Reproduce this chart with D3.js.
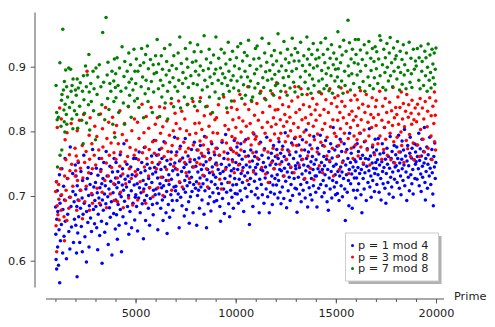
<!DOCTYPE html>
<html>
<head>
<meta charset="utf-8">
<script src="https://cdnjs.cloudflare.com/ajax/libs/d3/7.8.5/d3.min.js"></script>
<style>
body { margin: 0; background: #fff; }
text { font-family: "DejaVu Sans", sans-serif; fill: #222; }
</style>
</head>
<body>
<div id="chart"></div>
<script>
var xMajor = [5000, 10000, 15000, 20000];
var xMinor = d3.range(1000, 20001, 1000);
var yTicks = [0.6, 0.7, 0.8, 0.9];
var seriesNames = ['p = 1 mod 4', 'p = 3 mod 8', 'p = 7 mod 8'];
var seriesColors = ['#0000ff', '#ff0000', '#008000'];

// [prime, value]
var blue = [
[1009,.683],[1019,.641],[1033,.602],[1049,.722],[1061,.587],[1069,.664],[1093,.708],[1109,.621],[1117,.676],[1153,.593],[1181,.648],[1201,.733],[1213,.566],[1229,.689],[1249,.631],[1277,.701],[1297,.656],[1321,.742],[1361,.612],[1373,.679],[1409,.715],[1429,.638],[1453,.694],[1481,.758],[1489,.661],[1549,.603],[1597,.727],[1613,.672],[1669,.645],[1709,.698],[1721,.618],[1741,.776],[1777,.684],[1801,.652],[1861,.735],[1873,.707],[1901,.628],[1933,.691],[1949,.664],[1993,.748],
[2003,.702],[2017,.655],[2029,.731],[2053,.612],[2069,.684],[2081,.575],[2089,.716],[2113,.643],[2129,.694],[2141,.752],[2161,.668],[2213,.628],[2237,.709],[2251,.681],[2273,.738],[2293,.653],[2333,.697],[2341,.614],[2357,.724],[2381,.672],[2417,.763],[2437,.689],[2473,.637],[2521,.711],[2549,.598],[2557,.676],[2593,.727],[2617,.659],[2633,.744],[2657,.701],[2677,.621],[2693,.685],[2729,.718],[2753,.666],[2777,.735],[2801,.645],[2833,.702],[2857,.772],[2897,.679],[2917,.714],[2953,.657],[2969,.693],
[3001,.721],[3019,.684],[3041,.743],[3061,.651],[3089,.705],[3109,.617],[3121,.732],[3137,.672],[3169,.697],[3187,.758],[3209,.639],[3221,.713],[3253,.686],[3271,.741],[3299,.661],[3313,.719],[3329,.596],[3343,.694],[3373,.727],[3391,.678],[3413,.752],[3449,.703],[3461,.644],[3491,.716],[3517,.688],[3533,.769],[3557,.657],[3581,.731],[3613,.699],[3637,.625],[3673,.711],[3697,.682],[3719,.746],[3739,.667],[3761,.723],[3793,.691],[3821,.609],[3847,.737],[3877,.705],[3907,.673],[3929,.758],[3967,.718],[3989,.649],
[4001,.728],[4013,.694],[4027,.752],[4049,.671],[4073,.713],[4091,.633],[4111,.738],[4129,.687],[4153,.721],[4177,.655],[4211,.703],[4231,.764],[4241,.679],[4261,.731],[4283,.699],[4297,.614],[4337,.717],[4349,.742],[4373,.668],[4397,.709],[4421,.781],[4451,.692],[4481,.726],[4513,.658],[4549,.714],[4567,.749],[4597,.684],[4621,.731],[4649,.701],[4663,.641],[4691,.722],[4721,.676],[4759,.745],[4787,.708],[4801,.651],[4831,.733],[4871,.689],[4903,.758],[4931,.717],[4957,.663],[4987,.698],
[5003,.731],[5011,.702],[5023,.758],[5051,.684],[5081,.719],[5101,.646],[5113,.741],[5153,.697],[5179,.768],[5197,.713],[5233,.674],[5261,.736],[5273,.705],[5309,.752],[5333,.688],[5381,.724],[5393,.634],[5413,.711],[5437,.775],[5449,.693],[5477,.739],[5501,.662],[5521,.718],[5557,.701],[5581,.749],[5641,.681],[5653,.727],[5689,.713],[5701,.655],[5717,.743],[5741,.696],[5801,.762],[5813,.721],[5843,.687],[5857,.734],[5881,.671],[5897,.709],[5923,.786],[5953,.744],[5981,.702],
[6007,.737],[6029,.711],[6053,.763],[6073,.689],[6101,.728],[6113,.648],[6133,.749],[6173,.703],[6197,.772],[6221,.719],[6257,.681],[6269,.741],[6301,.713],[6317,.758],[6337,.694],[6353,.729],[6373,.662],[6397,.716],[6421,.784],[6449,.699],[6473,.745],[6521,.674],[6529,.724],[6553,.707],[6569,.755],[6577,.642],[6637,.687],[6661,.733],[6673,.718],[6701,.667],[6733,.749],[6761,.702],[6781,.768],[6793,.726],[6833,.693],[6857,.739],[6869,.678],[6917,.714],[6949,.791],[6961,.751],[6997,.708],
[7001,.742],[7013,.715],[7057,.768],[7069,.693],[7109,.733],[7129,.703],[7177,.651],[7193,.754],[7213,.721],[7237,.777],[7253,.698],[7297,.738],[7321,.685],[7349,.759],[7393,.711],[7417,.744],[7433,.669],[7457,.724],[7481,.789],[7489,.706],[7517,.749],[7541,.679],[7561,.731],[7577,.716],[7621,.762],[7649,.691],[7673,.737],[7681,.658],[7703,.721],[7717,.753],[7741,.699],[7789,.772],[7793,.729],[7817,.707],[7853,.745],[7873,.674],[7901,.718],[7933,.783],[7949,.756],[7993,.712],
[8009,.746],[8039,.722],[8053,.655],[8069,.771],[8093,.701],[8111,.737],[8147,.709],[8167,.759],[8191,.681],[8221,.728],[8237,.778],[8263,.714],[8291,.741],[8317,.694],[8353,.762],[8369,.719],[8389,.748],[8419,.672],[8429,.731],[8447,.792],[8467,.708],[8521,.753],[8543,.651],[8563,.725],[8597,.741],[8627,.688],[8647,.767],[8663,.712],[8693,.736],[8707,.699],[8731,.758],[8761,.677],[8783,.722],[8807,.781],[8831,.745],[8861,.705],[8887,.733],[8923,.691],[8951,.764],[8969,.718],[8999,.749],
[9001,.729],[9029,.751],[9049,.693],[9067,.774],[9091,.712],[9127,.741],[9151,.704],[9181,.763],[9209,.684],[9227,.735],[9241,.661],[9281,.749],[9293,.719],[9319,.783],[9341,.696],[9371,.738],[9397,.711],[9413,.758],[9433,.673],[9461,.727],[9497,.795],[9521,.744],[9547,.706],[9601,.766],[9613,.721],[9649,.688],[9677,.748],[9697,.668],[9721,.731],[9749,.709],[9769,.772],[9781,.739],[9811,.698],[9833,.756],[9857,.717],[9883,.681],[9907,.742],[9929,.786],[9949,.727],[9973,.704],
[10007,.752],[10037,.718],[10061,.776],[10079,.703],[10099,.741],[10133,.689],[10163,.763],[10177,.726],[10193,.749],[10223,.708],[10253,.781],[10271,.735],[10289,.694],[10321,.757],[10337,.721],[10369,.744],[10399,.676],[10429,.769],[10453,.731],[10477,.712],[10501,.787],[10529,.748],[10567,.699],[10597,.736],[10631,.762],[10657,.718],[10687,.656],[10709,.745],[10733,.727],[10753,.771],[10781,.707],[10837,.754],[10859,.684],[10889,.739],[10909,.796],[10937,.723],[10949,.761],[10973,.702],[10993,.744],
[11003,.734],[11027,.768],[11059,.712],[11083,.749],[11117,.697],[11149,.757],[11173,.674],[11197,.726],[11239,.783],[11261,.741],[11279,.718],[11311,.763],[11329,.702],[11353,.739],[11383,.752],[11411,.689],[11437,.773],[11471,.728],[11489,.745],[11519,.711],[11549,.791],[11579,.736],[11597,.699],[11633,.759],[11677,.674],[11699,.721],[11717,.748],[11743,.706],[11777,.766],[11801,.731],[11827,.687],[11839,.754],[11863,.717],[11887,.778],[11909,.742],[11933,.703],[11959,.727],[11981,.761],
[12007,.749],[12037,.717],[12049,.772],[12073,.733],[12109,.697],[12119,.758],[12143,.724],[12163,.784],[12197,.741],[12211,.706],[12241,.766],[12263,.688],[12281,.739],[12301,.753],[12329,.714],[12347,.777],[12379,.731],[12401,.696],[12421,.761],[12437,.743],[12473,.798],[12497,.723],[12517,.756],[12541,.682],[12577,.737],[12601,.771],[12619,.708],[12647,.749],[12671,.729],[12697,.764],[12721,.693],[12743,.744],[12763,.718],[12791,.782],[12823,.736],[12841,.701],[12889,.758],[12917,.727],[12941,.789],[12967,.712],[12983,.747],
[13001,.742],[13009,.768],[13037,.711],[13063,.675],[13099,.751],[13127,.729],[13151,.779],[13177,.703],[13183,.744],[13217,.762],[13249,.718],[13267,.691],[13297,.756],[13313,.734],[13331,.787],[13367,.709],[13397,.748],[13417,.726],[13441,.771],[13469,.697],[13499,.739],[13513,.802],[13537,.758],[13553,.721],[13591,.683],[13613,.746],[13633,.768],[13669,.713],[13691,.736],[13711,.779],[13729,.702],[13757,.753],[13781,.727],[13807,.694],[13829,.761],[13859,.741],[13877,.716],[13901,.792],[13921,.749],[13963,.731],[13997,.706],
[14009,.756],[14029,.731],[14057,.683],[14083,.774],[14107,.742],[14143,.712],[14153,.765],[14197,.737],[14221,.794],[14243,.718],[14281,.752],[14303,.699],[14327,.741],[14347,.778],[14369,.724],[14401,.761],[14419,.705],[14431,.747],[14461,.733],[14489,.786],[14519,.716],[14537,.757],[14563,.691],[14593,.741],[14627,.678],[14653,.769],[14669,.728],[14699,.753],[14717,.711],[14741,.781],[14767,.738],[14797,.697],[14813,.759],[14843,.724],[14867,.806],[14887,.746],[14923,.714],[14947,.771],[14969,.733],[14983,.702],
[15013,.749],[15031,.721],[15061,.777],[15077,.704],[15101,.738],[15131,.762],[15161,.693],[15193,.731],[15217,.788],[15241,.745],[15263,.716],[15289,.769],[15307,.737],[15329,.699],[15361,.754],[15383,.727],[15413,.781],[15443,.711],[15473,.662],[15493,.748],[15527,.733],[15551,.772],[15569,.706],[15601,.758],[15629,.724],[15649,.685],[15671,.741],[15683,.797],[15727,.752],[15739,.719],[15767,.766],[15791,.734],[15817,.681],[15859,.745],[15881,.709],[15901,.776],[15923,.728],[15937,.756],[15971,.739],[15991,.697],
[16001,.753],[16033,.728],[16061,.781],[16073,.709],[16103,.744],[16127,.769],[16141,.719],[16189,.735],[16217,.797],[16231,.758],[16253,.702],[16273,.741],[16301,.674],[16333,.763],[16363,.727],[16381,.749],[16411,.711],[16427,.784],[16451,.736],[16481,.758],[16519,.693],[16547,.746],[16567,.773],[16603,.721],[16631,.757],[16651,.739],[16673,.804],[16699,.714],[16729,.762],[16747,.731],[16763,.698],[16811,.751],[16831,.776],[16843,.724],[16883,.743],[16903,.767],[16927,.707],[16943,.735],[16963,.788],[16993,.752],
[17011,.742],[17029,.771],[17047,.718],[17077,.756],[17107,.733],[17123,.789],[17159,.706],[17183,.748],[17203,.765],[17239,.727],[17257,.694],[17293,.753],[17317,.781],[17333,.738],[17359,.719],[17383,.767],[17401,.744],[17431,.806],[17449,.712],[17477,.757],[17497,.689],[17519,.735],[17551,.774],[17579,.749],[17599,.721],[17623,.761],[17659,.703],[17683,.743],[17713,.792],[17737,.729],[17761,.758],[17789,.714],[17807,.769],[17839,.737],[17863,.698],[17891,.752],[17911,.778],[17929,.726],[17959,.745],[17989,.764],
[18013,.747],[18041,.776],[18059,.721],[18089,.758],[18119,.739],[18133,.794],[18169,.712],[18191,.751],[18217,.768],[18229,.731],[18253,.702],[18289,.757],[18307,.785],[18313,.742],[18353,.724],[18379,.771],[18401,.748],[18427,.803],[18443,.716],[18481,.762],[18503,.737],[18539,.693],[18553,.754],[18587,.778],[18617,.729],[18637,.747],[18671,.708],[18691,.766],[18713,.791],[18743,.733],[18773,.759],[18793,.719],[18803,.774],[18839,.741],[18859,.703],[18899,.756],[18919,.781],[18947,.727],[18973,.749],[18979,.768],
[19009,.753],[19031,.779],[19051,.726],[19073,.761],[19121,.742],[19139,.797],[19163,.716],[19183,.755],[19211,.773],[19237,.734],[19259,.707],[19273,.762],[19301,.788],[19319,.746],[19333,.729],[19379,.769],[19403,.751],[19421,.806],[19447,.721],[19471,.694],[19489,.758],[19507,.738],[19541,.776],[19571,.712],[19597,.749],[19609,.764],[19661,.731],[19687,.791],[19709,.743],[19739,.718],[19763,.757],[19793,.772],[19813,.736],[19841,.703],[19867,.685],[19891,.761],[19919,.745],[19937,.782],[19963,.727],[19991,.752]
];

var red = [
[1009,.707],[1031,.654],[1051,.722],[1063,.614],[1087,.685],[1091,.806],[1123,.671],[1163,.718],[1171,.695],[1187,.663],[1213,.836],[1259,.742],[1283,.678],[1291,.819],[1307,.702],[1427,.668],[1451,.631],[1459,.731],[1483,.787],[1499,.693],[1523,.756],[1531,.709],[1571,.662],[1579,.798],[1619,.727],[1667,.681],[1699,.764],[1723,.739],[1747,.698],[1787,.812],[1811,.749],[1867,.715],[1979,.774],[1987,.731],
[2011,.739],[2039,.762],[2063,.678],[2087,.801],[2099,.724],[2131,.754],[2179,.693],[2203,.817],[2251,.743],[2267,.709],[2339,.778],[2347,.665],[2371,.728],[2411,.826],[2459,.752],[2467,.691],[2531,.769],[2539,.715],[2579,.893],[2659,.736],[2683,.794],[2699,.678],[2707,.757],[2731,.821],[2803,.704],[2819,.781],[2843,.742],[2851,.689],[2939,.763],[2963,.808],
[3011,.748],[3067,.792],[3083,.712],[3163,.771],[3203,.689],[3251,.827],[3259,.738],[3307,.758],[3331,.706],[3347,.804],[3371,.776],[3467,.724],[3499,.837],[3539,.751],[3547,.682],[3571,.789],[3643,.731],[3659,.814],[3691,.763],[3739,.703],[3779,.782],[3803,.744],[3851,.822],[3907,.719],[3923,.767],[3931,.693],[3947,.798],
[4019,.757],[4051,.809],[4091,.728],[4099,.691],[4139,.781],[4211,.746],[4219,.832],[4243,.706],[4259,.768],[4339,.795],[4363,.734],[4387,.682],[4451,.812],[4483,.753],[4507,.719],[4547,.786],[4603,.761],[4643,.838],[4651,.697],[4691,.742],[4723,.775],[4787,.727],[4813,.801],[4861,.686],[4931,.763],[4943,.819],[4987,.738],
[5011,.771],[5059,.733],[5099,.814],[5107,.694],[5147,.756],[5171,.789],[5227,.722],[5323,.842],[5347,.767],[5387,.707],[5419,.798],[5443,.745],[5483,.776],[5507,.689],[5531,.823],[5563,.758],[5651,.731],[5659,.805],[5683,.772],[5711,.713],[5779,.837],[5827,.752],[5851,.784],[5867,.699],[5939,.766],[5987,.811],
[6011,.786],[6043,.742],[6089,.821],[6121,.713],[6143,.764],[6199,.838],[6211,.752],[6247,.797],[6271,.729],[6299,.774],[6359,.807],[6367,.701],[6427,.761],[6451,.836],[6491,.782],[6547,.741],[6563,.816],[6619,.769],[6659,.724],[6691,.794],[6763,.757],[6779,.843],[6803,.709],[6827,.778],[6883,.801],[6907,.746],[6971,.828],
[7019,.763],[7027,.812],[7079,.741],[7103,.789],[7151,.847],[7187,.722],[7211,.773],[7219,.804],[7243,.756],[7307,.831],[7331,.714],[7411,.783],[7451,.752],[7459,.819],[7499,.768],[7523,.736],[7547,.801],[7603,.842],[7643,.774],[7691,.727],[7699,.795],[7723,.757],[7867,.846],[7883,.779],[7907,.745],[7963,.812],
[8011,.797],[8059,.752],[8087,.832],[8123,.771],[8171,.719],[8179,.813],[8219,.785],[8231,.749],[8243,.852],[8287,.766],[8311,.803],[8363,.732],[8387,.779],[8431,.824],[8443,.761],[8527,.791],[8539,.742],[8573,.839],[8599,.714],[8623,.772],[8669,.808],[8699,.756],[8747,.827],[8779,.784],[8837,.737],[8867,.798],[8923,.768],[8963,.818],
[9011,.774],[9043,.821],[9059,.748],[9091,.797],[9137,.841],[9187,.763],[9203,.726],[9283,.711],[9323,.786],[9403,.853],[9419,.768],[9467,.809],[9491,.741],[9539,.782],[9587,.829],[9619,.757],[9643,.803],[9683,.721],[9739,.774],[9787,.837],[9811,.792],[9851,.753],[9859,.818],[9883,.769],[9923,.847],[9931,.736],[9967,.789],
[10009,.806],[10039,.766],[10067,.834],[10091,.782],[10139,.748],[10163,.821],[10211,.857],[10259,.771],[10267,.799],[10331,.739],[10357,.816],[10427,.784],[10459,.842],[10499,.761],[10531,.808],[10579,.724],[10603,.869],[10627,.789],[10651,.834],[10691,.753],[10723,.812],[10771,.779],[10799,.846],[10859,.767],[10867,.798],[10891,.737],[10939,.825],[10979,.788],
[11027,.792],[11059,.843],[11083,.759],[11131,.817],[11171,.781],[11251,.862],[11299,.744],[11323,.806],[11347,.829],[11419,.771],[11443,.851],[11467,.797],[11491,.734],[11587,.814],[11611,.768],[11627,.721],[11699,.839],[11731,.786],[11779,.807],[11787,.752],[11827,.858],[11867,.774],[11883,.821],[11923,.742],[11939,.796],[11971,.833],
[12011,.811],[12043,.875],[12071,.763],[12107,.834],[12143,.789],[12197,.852],[12203,.749],[12227,.818],[12251,.797],[12323,.772],[12343,.841],[12391,.808],[12413,.731],[12451,.826],[12479,.784],[12503,.861],[12539,.757],[12553,.815],[12611,.793],[12647,.838],[12659,.769],[12703,.822],[12739,.801],[12757,.745],[12799,.847],[12853,.779],[12893,.812],[12911,.736],[12953,.869],[12979,.791],
[13007,.829],[13043,.778],[13103,.853],[13121,.806],[13163,.748],[13187,.834],[13219,.792],[13259,.866],[13291,.771],[13309,.818],[13339,.757],[13381,.841],[13411,.799],[13451,.727],[13487,.821],[13523,.783],[13567,.857],[13597,.762],[13627,.812],[13681,.838],[13693,.794],[13723,.743],[13763,.826],[13799,.773],[13841,.851],[13873,.808],[13903,.725],[13931,.787],[13967,.833],
[14011,.817],[14051,.842],[14071,.768],[14087,.796],[14143,.861],[14173,.747],[14207,.825],[14251,.783],[14281,.858],[14323,.803],[14341,.736],[14407,.834],[14423,.777],[14449,.812],[14503,.849],[14551,.762],[14563,.791],[14627,.829],[14683,.755],[14699,.866],[14731,.807],[14779,.843],[14827,.774],[14851,.818],[14879,.731],[14929,.797],[14947,.852],
[15017,.792],[15053,.838],[15073,.761],[15091,.817],[15107,.855],[15137,.778],[15173,.741],[15199,.829],[15227,.804],[15259,.867],[15269,.784],[15299,.846],[15331,.752],[15373,.821],[15427,.797],[15451,.839],[15493,.768],[15541,.812],[15581,.861],[15619,.789],[15643,.735],[15667,.826],[15731,.806],[15749,.848],[15773,.774],[15803,.831],[15859,.758],[15877,.817],[15907,.793],[15947,.856],[15971,.779],
[16007,.823],[16057,.787],[16069,.849],[16087,.809],[16111,.762],[16139,.836],[16183,.797],[16229,.863],[16249,.776],[16267,.818],[16339,.842],[16369,.751],[16411,.802],[16451,.829],[16477,.785],[16519,.857],[16567,.771],[16603,.814],[16619,.839],[16651,.793],[16699,.748],[16747,.826],[16787,.806],[16811,.852],[16843,.779],[16883,.821],[16931,.764],[16979,.838],
[17011,.809],[17027,.848],[17099,.781],[17123,.826],[17189,.862],[17203,.793],[17291,.757],[17299,.817],[17341,.839],[17387,.772],[17419,.806],[17467,.851],[17491,.788],[17539,.829],[17573,.763],[17627,.814],[17683,.845],[17707,.797],[17747,.756],[17783,.832],[17827,.809],[17851,.868],[17891,.784],[17923,.821],[17939,.751],[17987,.837],
[18043,.826],[18059,.791],[18097,.853],[18131,.811],[18149,.768],[18199,.837],[18251,.799],[18269,.861],[18287,.778],[18329,.819],[18371,.843],[18397,.752],[18427,.807],[18481,.831],[18517,.786],[18541,.857],[18583,.773],[18617,.822],[18637,.841],[18679,.795],[18731,.761],[18757,.828],[18787,.811],[18803,.848],[18859,.782],[18899,.818],[18911,.756],[18959,.836],
[19031,.815],[19079,.842],[19087,.779],[19139,.827],[19183,.761],[19207,.851],[19231,.803],[19319,.836],[19351,.788],[19391,.819],[19423,.768],[19463,.846],[19559,.807],[19583,.831],[19603,.774],[19687,.852],[19751,.793],[19759,.824],[19801,.756],[19843,.839],[19891,.812],[19919,.861],[19927,.784],[19963,.825],[19979,.771],[19991,.847]
];

var green = [
[1031,.871],[1063,.829],[1087,.818],[1103,.745],[1151,.822],[1223,.906],[1231,.763],[1279,.808],[1303,.848],[1319,.771],[1327,.857],[1367,.958],[1399,.864],[1423,.833],[1439,.815],[1447,.877],[1471,.799],[1487,.842],[1511,.895],[1543,.826],[1559,.869],[1567,.811],[1607,.853],[1663,.898],[1703,.837],[1759,.896],[1783,.862],[1823,.819],[1831,.871],[1847,.845],[1871,.804],[1879,.881],[1951,.832],[1999,.864],
[2039,.856],[2063,.826],[2087,.881],[2111,.805],[2143,.867],[2207,.839],[2239,.875],[2311,.817],[2351,.862],[2383,.781],[2399,.886],[2423,.849],[2447,.828],[2503,.901],[2543,.869],[2551,.813],[2591,.887],[2647,.841],[2671,.919],[2687,.861],[2711,.802],[2767,.874],[2791,.846],[2879,.893],[2903,.832],[2927,.866],[2999,.787],
[3023,.898],[3079,.857],[3119,.884],[3167,.826],[3191,.903],[3271,.869],[3319,.841],[3359,.953],[3407,.876],[3463,.818],[3527,.976],[3583,.887],[3607,.851],[3623,.907],[3671,.834],[3719,.874],[3767,.862],[3823,.893],[3863,.811],[3911,.878],[3919,.846],[3943,.912],[3967,.791],[3989,.868],
[4007,.889],[4023,.852],[4079,.914],[4127,.871],[4159,.829],[4199,.898],[4271,.862],[4327,.931],[4391,.844],[4423,.885],[4447,.811],[4463,.908],[4519,.867],[4583,.893],[4639,.839],[4663,.921],[4679,.876],[4703,.856],[4751,.903],[4783,.822],[4799,.881],[4871,.864],[4919,.927],[4951,.847],[4967,.893],
[5009,.874],[5039,.912],[5087,.851],[5119,.893],[5167,.837],[5231,.902],[5279,.869],[5303,.928],[5351,.884],[5399,.821],[5407,.906],[5479,.858],[5503,.919],[5527,.879],[5591,.932],[5623,.846],[5639,.897],[5647,.866],[5743,.911],[5791,.877],[5839,.829],[5879,.903],[5903,.861],[5927,.889],[5999,.917],
[6047,.891],[6079,.942],[6143,.866],[6151,.904],[6203,.823],[6247,.879],[6287,.917],[6311,.853],[6343,.896],[6367,.871],[6449,.928],[6481,.844],[6529,.887],[6553,.908],[6599,.862],[6607,.819],[6679,.894],[6703,.876],[6719,.934],[6791,.851],[6823,.902],[6871,.883],[6899,.838],[6911,.917],[6967,.869],
[7039,.897],[7103,.862],[7127,.921],[7159,.879],[7207,.946],[7247,.836],[7283,.905],[7351,.874],[7369,.891],[7433,.853],[7487,.928],[7507,.882],[7559,.912],[7583,.841],[7607,.899],[7639,.868],[7727,.937],[7759,.886],[7823,.851],[7841,.907],[7879,.874],[7927,.923],[7951,.839],[7993,.893],
[8017,.909],[8081,.872],[8101,.934],[8161,.887],[8209,.846],[8233,.901],[8273,.923],[8329,.864],[8377,.894],[8423,.948],[8461,.879],[8501,.838],[8537,.912],[8581,.869],[8641,.897],[8677,.927],[8689,.853],[8719,.884],[8753,.906],[8821,.874],[8839,.829],[8893,.918],[8933,.889],[8971,.861],
[9007,.896],[9013,.946],[9127,.879],[9151,.913],[9173,.851],[9239,.898],[9277,.927],[9311,.874],[9349,.889],[9377,.857],[9431,.921],[9463,.883],[9511,.904],[9551,.836],[9587,.871],[9629,.938],[9661,.893],[9679,.862],[9719,.911],[9767,.879],[9791,.847],[9839,.924],[9871,.886],[9901,.867],[9941,.901],
[10039,.914],[10069,.878],[10103,.931],[10151,.863],[10177,.897],[10247,.936],[10271,.884],[10303,.851],[10343,.909],[10391,.872],[10433,.922],[10463,.893],[10487,.856],[10567,.917],[10589,.884],[10639,.941],[10663,.869],[10711,.902],[10739,.878],[10781,.848],[10847,.853],[10903,.912],[10939,.889],[10957,.867],[10987,.928],
[11047,.896],[11069,.932],[11113,.874],[11159,.913],[11213,.859],[11257,.901],[11317,.944],[11351,.883],[11399,.868],[11447,.921],[11497,.892],[11503,.849],[11551,.907],[11593,.879],[11657,.936],[11701,.894],[11743,.863],[11783,.917],[11807,.881],[11863,.903],[11897,.856],[11927,.925],[11953,.888],[11987,.871],
[12041,.909],[12097,.874],[12113,.951],[12157,.893],[12239,.921],[12253,.862],[12289,.901],[12373,.883],[12409,.939],[12433,.871],[12487,.912],[12511,.894],[12569,.856],[12583,.927],[12641,.885],[12659,.906],[12713,.867],[12781,.918],[12809,.893],[12823,.944],[12889,.876],[12919,.909],[12959,.861],[12967,.928],
[13033,.897],[13093,.922],[13147,.869],[13159,.909],[13229,.884],[13241,.938],[13313,.857],[13337,.902],[13399,.917],[13463,.876],[13477,.893],[13553,.946],[13577,.912],[13619,.866],[13649,.927],[13687,.887],[13697,.903],[13759,.859],[13799,.919],[13831,.881],[13873,.936],[13883,.898],[13913,.871],[13999,.912],
[14071,.901],[14081,.926],[14149,.878],[14159,.914],[14197,.861],[14249,.937],[14293,.894],[14321,.881],[14369,.919],[14411,.866],[14447,.906],[14479,.944],[14519,.889],[14543,.871],[14591,.927],[14621,.898],[14657,.863],[14713,.913],[14759,.886],[14783,.934],[14831,.859],[14869,.903],[14897,.921],[14951,.878],[14983,.896],
[15031,.912],[15077,.884],[15101,.954],[15121,.897],[15149,.869],[15199,.931],[15233,.906],[15287,.878],[15313,.918],[15359,.859],[15391,.941],[15439,.893],[15461,.871],[15511,.924],[15607,.972],[15619,.901],[15649,.886],[15679,.937],[15727,.864],[15761,.912],[15797,.889],[15823,.927],[15887,.874],[15919,.906],[15973,.942],
[16007,.919],[16063,.887],[16111,.904],[16127,.942],[16183,.868],[16223,.926],[16231,.893],[16319,.911],[16361,.877],[16417,.934],[16447,.862],[16487,.902],[16553,.921],[16607,.884],[16649,.939],[16693,.871],[16741,.913],[16759,.894],[16823,.928],[16871,.866],[16903,.908],[16921,.883],[16963,.931],
[17021,.897],[17041,.923],[17093,.874],[17137,.912],[17191,.948],[17209,.886],[17239,.941],[17327,.903],[17351,.868],[17393,.927],[17449,.891],[17471,.914],[17489,.864],[17551,.936],[17569,.899],[17623,.878],[17669,.921],[17713,.945],[17729,.886],[17783,.906],[17839,.869],[17881,.929],[17903,.893],[17957,.912],
[18013,.917],[18047,.881],[18077,.939],[18119,.899],[18181,.864],[18211,.924],[18233,.891],[18301,.911],[18311,.873],[18367,.934],[18413,.887],[18439,.903],[18503,.866],[18523,.921],[18593,.894],[18661,.938],[18701,.876],[18749,.913],[18769,.889],[18797,.868],[18869,.927],[18917,.896],[18973,.909],
[19013,.901],[19069,.928],[19141,.879],[19157,.914],[19207,.866],[19249,.932],[19289,.893],[19309,.908],[19379,.871],[19441,.924],[19477,.886],[19501,.914],[19559,.862],[19577,.899],[19609,.935],[19661,.879],[19699,.918],[19727,.891],[19753,.867],[19801,.927],[19843,.904],[19861,.883],[19913,.921],[19937,.873],[19963,.896],[19997,.929]
];

var width = 495, height = 327;

var svg = d3.select('#chart')
    .append('svg')
    .attr('width', width)
    .attr('height', height);

var x = d3.scaleLinear().domain([0, 20000]).range([35.4, 436]);
var y = d3.scaleLinear().domain([0.6, 0.9]).range([260.7, 66.7]);

// points: blue first, then red and green on top
var allSeries = [blue, red, green];
allSeries.forEach(function(data, i) {
    svg.append('g')
        .selectAll('circle')
        .data(data)
        .enter()
        .append('circle')
        .attr('cx', function(d) { return x(d[0]); })
        .attr('cy', function(d) { return y(d[1]); })
        .attr('r', 1.75)
        .attr('fill', seriesColors[i]);
});

// x axis (does not meet the y axis)
var gx = svg.append('g').attr('transform', 'translate(0,299)');
gx.append('line')
    .attr('x1', 46).attr('x2', 444)
    .attr('stroke', '#555').attr('stroke-width', 1);
gx.call(d3.axisBottom(x).tickValues(xMinor).tickSize(3).tickFormat(''))
gx.call(function(g) {
    g.append('g').call(d3.axisBottom(x).tickValues(xMajor).tickSize(4.5).tickPadding(5)
        .tickFormat(d3.format('d')));
});
gx.selectAll('.domain').remove();
gx.selectAll('.tick line').attr('stroke', '#555');
gx.selectAll('text').attr('font-size', 11.3).attr('font-family', 'DejaVu Sans').attr('fill', '#222');

gx.append('text')
    .attr('x', 454)
    .attr('y', 0.5)
    .attr('text-anchor', 'start')
    .attr('font-size', 11.3)
    .attr('font-family', 'DejaVu Sans')
    .attr('fill', '#222')
    .text('Prime');

// y axis
var gy = svg.append('g').attr('transform', 'translate(35,0)');
gy.append('line')
    .attr('y1', 12.5).attr('y2', 287.5)
    .attr('stroke', '#555').attr('stroke-width', 1);
gy.call(d3.axisLeft(y).tickValues(yTicks).tickSize(4.3).tickPadding(4.7).tickFormat(d3.format('.1f')));
gy.selectAll('.domain').remove();
gy.selectAll('.tick line').attr('stroke', '#555');
gy.selectAll('text').attr('font-size', 11.3).attr('font-family', 'DejaVu Sans').attr('fill', '#222');

// legend with shadow
var legend = svg.append('g');
legend.append('rect')
    .attr('x', 348.5).attr('y', 236)
    .attr('width', 93).attr('height', 48)
    .attr('fill', '#b0b0b0');
legend.append('rect')
    .attr('x', 345.5).attr('y', 233)
    .attr('width', 93).attr('height', 48)
    .attr('fill', '#fff')
    .attr('stroke', '#cccccc');

var item = legend.selectAll('.item')
    .data(seriesNames)
    .enter()
    .append('g')
    .attr('class', 'item')
    .attr('transform', function(d, i) { return 'translate(352.5,' + (245.5 + i * 11.5) + ')'; });
item.append('circle')
    .attr('r', 1.5)
    .attr('fill', function(d, i) { return seriesColors[i]; });
item.append('text')
    .attr('x', 5.5)
    .attr('dy', '0.35em')
    .attr('font-size', 11.3)
    .text(function(d) { return d; });
</script>
</body>
</html>
